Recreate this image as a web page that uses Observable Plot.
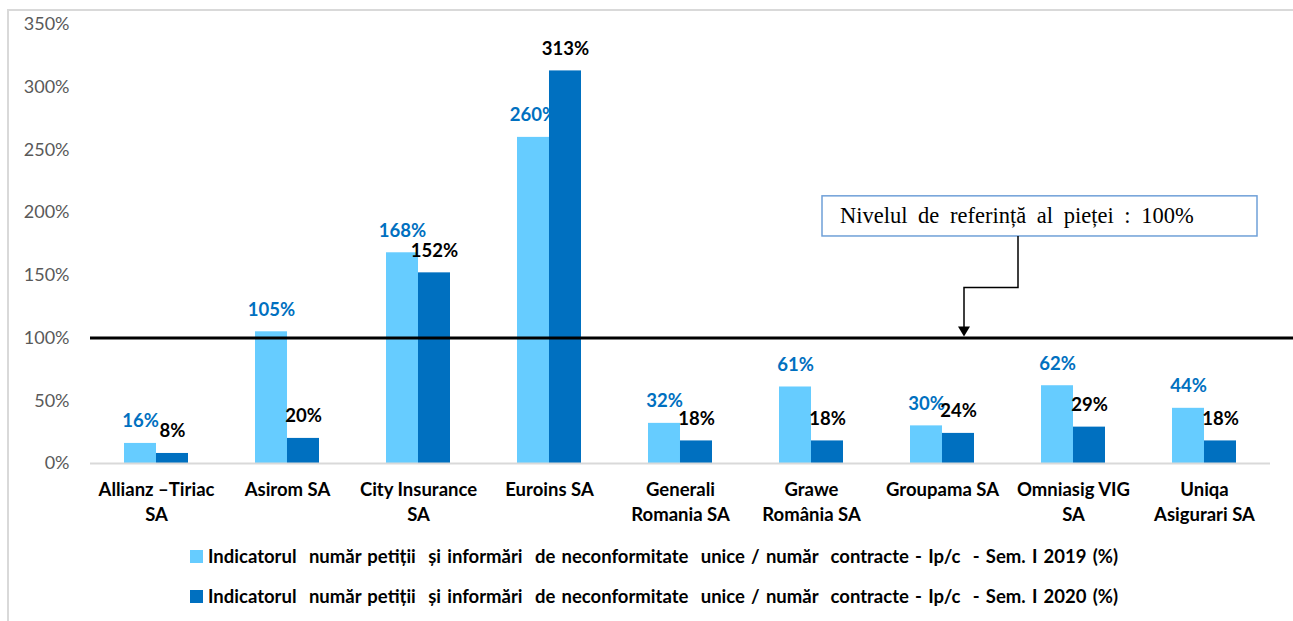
<!DOCTYPE html>
<html>
<head>
<meta charset="utf-8">
<script src="https://cdn.jsdelivr.net/npm/d3@7"></script>
<script src="https://cdn.jsdelivr.net/npm/@observablehq/plot@0.6"></script>
<style>
  html, body { margin: 0; padding: 0; background: #fff; }
  body { width: 1293px; height: 621px; position: relative; overflow: hidden; font-family: Lato, "Open Sans", sans-serif; }
  #frame { position: absolute; left: 7px; top: 9px; width: 1300px; height: 640px; border-left: 2px solid #d9d9d9; border-top: 2px solid #d9d9d9; pointer-events: none; }
  #chart { position: absolute; left: 0; top: 0; }
  .legend-row { position: absolute; left: 190px; display: flex; align-items: center; font-weight: bold; font-size: 18.5px; color: #000; white-space: pre; }
  .legend-row .sw { width: 13px; height: 13px; margin-right: 5px; flex: none; }
</style>
</head>
<body>
<div id="chart"></div>
<div id="frame"></div>
<div id="legend"></div>
<script>
const categories = ["Allianz –Tiriac SA", "Asirom SA", "City Insurance SA", "Euroins SA", "Generali Romania SA", "Grawe România SA", "Groupama SA", "Omniasig VIG SA", "Uniqa Asigurari SA"];
const categoryLabels = ["Allianz –Tiriac\nSA", "Asirom SA", "City Insurance\nSA", "Euroins SA", "Generali\nRomania SA", "Grawe\nRomânia SA", "Groupama SA", "Omniasig VIG\nSA", "Uniqa\nAsigurari SA"];
const values2019 = [16, 105, 168, 260, 32, 61, 30, 62, 44];
const values2020 = [8, 20, 152, 313, 18, 18, 24, 29, 18];
const yTicks = [0, 50, 100, 150, 200, 250, 300, 350];
const referenceLevel = 100;
const referenceLabel = "Nivelul de referință al pieței : 100%";
const seriesNames = [
  "Indicatorul  număr petiții  și informări  de neconformitate  unice / număr  contracte - Ip/c  - Sem. I 2019 (%)",
  "Indicatorul  număr petiții  și informări  de neconformitate  unice / număr  contracte - Ip/c  - Sem. I 2020 (%)"
];
const colors = ["#66ccff", "#0070c0"];

const rows = categories.map((c, i) => ({cat: c, v2019: values2019[i], v2020: values2020[i]}));

const W = 1293, H = 535, ML = 90, MR = 23, MT = 24, MB = 72;
const pad = 0.512;
const step = (W - ML - MR) / categories.length;
const half = step * (1 - pad) / 2;

const chart = Plot.plot({
  width: W, height: H,
  marginLeft: ML, marginRight: MR, marginTop: MT, marginBottom: MB,
  style: {fontFamily: "Lato, 'Open Sans', sans-serif", background: "transparent", color: "#000", overflow: "visible"},
  x: {domain: categories, paddingInner: pad, paddingOuter: pad / 2, label: null},
  y: {domain: [0, 350], label: null},
  marks: [
    Plot.barY(rows, {x: "cat", y: "v2019", fill: colors[0], insetRight: half}),
    Plot.barY(rows, {x: "cat", y: "v2020", fill: colors[1], insetLeft: half}),
    Plot.ruleY([0], {stroke: "#d9d9d9", strokeWidth: 2}),
    Plot.ruleY([referenceLevel], {stroke: "#000", strokeWidth: 3, insetRight: -MR}),
    Plot.text(rows, {x: "cat", y: "v2019", text: d => d.v2019 + "%", dx: -half / 2, dy: -22, fill: "#0070c0", fontWeight: "bold", fontSize: 18.5}),
    Plot.text(rows, {x: "cat", y: "v2020", text: d => d.v2020 + "%", dx: half / 2, dy: -22, fill: "#000", fontWeight: "bold", fontSize: 18.5}),
    Plot.axisY({ticks: yTicks, tickSize: 0, tickPadding: 21, tickFormat: d => d + "%", fontSize: 18, fill: "#595959", label: null}),
    Plot.axisX({tickSize: 0, tickPadding: 15, fontSize: 18.5, fontWeight: "bold", fill: "#000", lineHeight: 1.35, label: null,
      tickFormat: d => categoryLabels[categories.indexOf(d)]})
  ]
});
document.getElementById("chart").appendChild(chart);

// Annotation callout for the market reference level
const ys = chart.scale("y");
const xs = chart.scale("x");
const yRef = ys.apply(referenceLevel);
const tipX = xs.apply("Groupama SA") + xs.bandwidth / 2 + 22;
const boxTop = ys.apply(213), boxBottom = ys.apply(181);
const boxLeft = xs.apply("Generali Romania SA") + 174, boxRight = xs.apply("Uniqa Asigurari SA") + 85;
const stemX = tipX + 54;
const elbowY = ys.apply(140);
const svg = d3.select(chart);
const g = svg.append("g");
g.append("rect").attr("x", boxLeft).attr("y", boxTop).attr("width", boxRight - boxLeft).attr("height", boxBottom - boxTop)
  .attr("fill", "#fff").attr("stroke", "#6fa0d8").attr("stroke-width", 1.5);
g.append("text").attr("x", boxLeft + 18).attr("y", (boxTop + boxBottom) / 2 + 7)
  .attr("text-anchor", "start")
  .attr("font-family", "'Liberation Serif', 'Times New Roman', serif").attr("font-size", 22.5).attr("word-spacing", 5).attr("fill", "#000")
  .text(referenceLabel);
g.append("path").attr("d", `M${stemX},${boxBottom} V${elbowY} H${tipX} V${yRef - 10}`)
  .attr("fill", "none").attr("stroke", "#000").attr("stroke-width", 1.5);
g.append("path").attr("d", `M${tipX - 6},${yRef - 11} L${tipX + 6},${yRef - 11} L${tipX},${yRef - 1} Z`).attr("fill", "#000");

// Legend
const legend = document.getElementById("legend");
const legendTargetWidth = 910;
seriesNames.forEach((name, i) => {
  const row = document.createElement("div");
  row.className = "legend-row";
  row.style.top = (545 + i * 40) + "px";
  const sw = document.createElement("div");
  sw.className = "sw";
  sw.style.background = colors[i];
  const t = document.createElement("span");
  t.textContent = name;
  row.appendChild(sw); row.appendChild(t);
  legend.appendChild(row);
  const w = t.getBoundingClientRect().width;
  const spaces = (name.match(/ /g) || []).length;
  t.style.wordSpacing = Math.max(0, (legendTargetWidth - w) / spaces) + "px";
});
</script>
</body>
</html>
